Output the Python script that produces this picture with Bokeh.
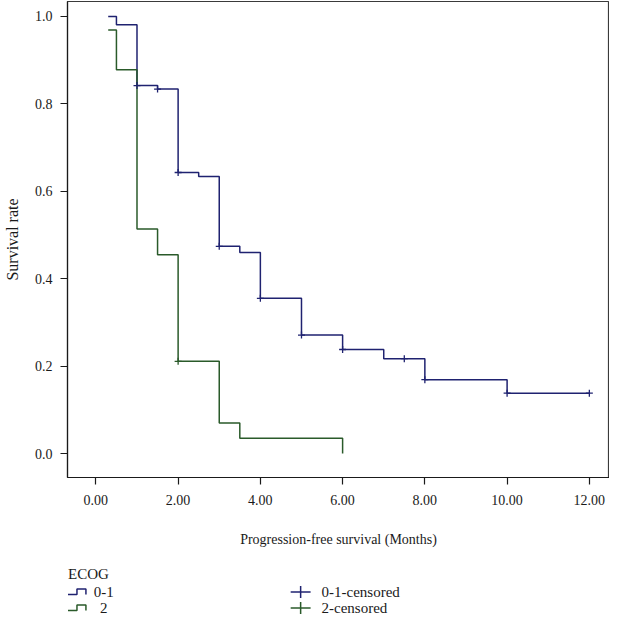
from bokeh.plotting import figure
from bokeh.models import Range1d, FixedTicker
from bokeh.layouts import column
from bokeh.embed import file_html
from bokeh.resources import INLINE
from bokeh.core.properties import value

# ---------------- data ----------------
time_01 = [0.3, 0.5, 1.0, 1.5, 2.0, 2.5, 3.0, 3.5, 4.0, 5.0, 6.0, 7.0, 8.0, 10.0, 12.0]
surv_01 = [1.0, 0.981, 0.842, 0.834, 0.643, 0.634, 0.474, 0.460, 0.355, 0.271, 0.238, 0.217, 0.169, 0.138, 0.138]
time_2 = [0.3, 0.5, 1.0, 1.5, 2.0, 3.0, 3.5, 6.0]
surv_2 = [0.969, 0.878, 0.514, 0.455, 0.211, 0.070, 0.035, 0.0]
cens_time_01 = [1.0, 1.5, 2.0, 3.0, 4.0, 5.0, 6.0, 7.5, 8.0, 10.0, 12.0]
cens_surv_01 = [0.842, 0.834, 0.643, 0.474, 0.355, 0.271, 0.238, 0.217, 0.169, 0.138, 0.138]
cens_time_2 = [2.0]
cens_surv_2 = [0.211]
x_ticks = [0, 2, 4, 6, 8, 10, 12]
x_tick_labels = ["0.00", "2.00", "4.00", "6.00", "8.00", "10.00", "12.00"]
y_ticks = [0.0, 0.2, 0.4, 0.6, 0.8, 1.0]
y_tick_labels = ["0.0", "0.2", "0.4", "0.6", "0.8", "1.0"]
legend_title = "ECOG"
group_labels = ["0-1", "2"]
censor_labels = ["0-1-censored", "2-censored"]

# ---------------- style ----------------
BLUE = "#1f2270"
GREEN = "#2a5a2a"
FONT = "Liberation Serif"
TXT = "#1a1a1a"
colors = [BLUE, GREEN]

W = 609
MAIN_H = 554
LEG_H = 62
LEFT = 65          # frame left border (page x = 73)
FRAME_BOTTOM = 477 # frame bottom measured from figure top (page y = 485)

p = figure(width=W, height=MAIN_H, output_backend="svg", toolbar_location=None,
           x_range=Range1d(-0.69, 12.49), y_range=Range1d(-0.0549, 1.0343),
           min_border_left=LEFT, min_border_right=0, min_border_top=1,
           min_border_bottom=MAIN_H - FRAME_BOTTOM)
p.grid.visible = False
p.outline_line_color = "#3a3a3a"
p.outline_line_width = 1.2
p.background_fill_color = "white"
p.border_fill_color = "white"

p.step(time_01, surv_01, mode="after", line_color=BLUE, line_width=1.5)
p.step(time_2, surv_2, mode="after", line_color=GREEN, line_width=1.5)
p.scatter(cens_time_01, cens_surv_01, marker="cross", size=7, line_color=BLUE, line_width=1.3)
p.scatter(cens_time_2, cens_surv_2, marker="cross", size=7, line_color=GREEN, line_width=1.3)

p.xaxis.ticker = FixedTicker(ticks=x_ticks)
p.xaxis.major_label_overrides = {t: l for t, l in zip(x_ticks, x_tick_labels)}
p.yaxis.ticker = FixedTicker(ticks=y_ticks)
p.yaxis.major_label_overrides = {t: l for t, l in zip(y_ticks, y_tick_labels)}
p.xaxis.axis_label = "Progression-free survival (Months)"
p.yaxis.axis_label = "Survival rate"
for ax in (p.xaxis, p.yaxis):
    ax.axis_line_color = "#1a1a1a"
    ax.axis_line_width = 1.2
    ax.major_tick_line_color = "#1a1a1a"
    ax.major_tick_line_width = 1.2
    ax.major_tick_out = 7
    ax.major_tick_in = 0
    ax.minor_tick_line_color = None
    ax.major_label_text_font = FONT
    ax.major_label_text_font_size = "14px"
    ax.major_label_text_color = TXT
    ax.axis_label_text_font = FONT
    ax.axis_label_text_font_style = "normal"
    ax.axis_label_text_color = TXT
    ax.major_label_standoff = 8
p.xaxis.major_label_standoff = 10
p.xaxis.axis_label_text_font_size = "14px"
p.yaxis.axis_label_text_font_size = "16px"
p.xaxis.axis_label_standoff = 24
p.yaxis.axis_label_standoff = 11

# ---------------- legend panel (page-pixel coordinates) ----------------
top = 8 + MAIN_H
lg = figure(width=W, height=LEG_H, output_backend="svg", toolbar_location=None,
            x_range=Range1d(8 + LEFT, 8 + W), y_range=Range1d(top + LEG_H, top),
            x_axis_type=None, y_axis_type=None,
            min_border_left=LEFT, min_border_right=0, min_border_top=0, min_border_bottom=0)
lg.grid.visible = False
lg.outline_line_color = None
lg.background_fill_color = "white"
lg.border_fill_color = "white"

col1_x = 73.5
title_y = 581.0
row_y = [599.5, 615.5]
icon_w = 18.0
icon_h = 5.5
for i, c in enumerate(colors):
    base = row_y[i] + 2.5
    xs = [col1_x, col1_x + icon_w / 2, col1_x + icon_w / 2, col1_x + icon_w, col1_x + icon_w]
    ys = [base, base, base - icon_h, base - icon_h, base]
    lg.line(xs, ys, line_color=c, line_width=1.5)
lg.text(x=[col1_x], y=[title_y], text=[legend_title], text_font=value(FONT),
        text_font_size="15px", text_color=TXT, text_baseline="middle", text_align="left")
lg.text(x=[109.5, 109.5], y=row_y, text=group_labels, text_font=value(FONT),
        text_font_size="15px", text_color=TXT, text_baseline="middle", text_align="center")

cross_cx = 307.0
for i, c in enumerate(colors):
    lg.segment(x0=[cross_cx - 10, cross_cx], y0=[row_y[i], row_y[i] - 6],
               x1=[cross_cx + 10, cross_cx], y1=[row_y[i], row_y[i] + 6],
               line_color=c, line_width=1.5)
lg.text(x=[328.0, 328.0], y=row_y, text=censor_labels, text_font=value(FONT),
        text_font_size="15px", text_color=TXT, text_baseline="middle", text_align="left")

layout = column(p, lg, spacing=0)
open("out.html", "w").write(file_html(layout, INLINE))
